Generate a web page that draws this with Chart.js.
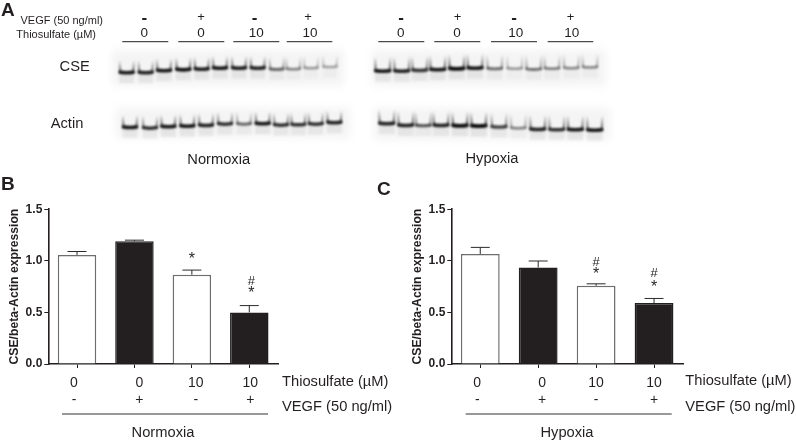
<!DOCTYPE html>
<html><head><meta charset="utf-8">
<script src="https://cdn.jsdelivr.net/npm/chart.js@4/dist/chart.umd.min.js"></script>
<style>
html,body{margin:0;padding:0;background:#fff;width:796px;height:444px;overflow:hidden}
canvas{position:absolute;display:block}
</style></head><body>
<canvas id="blot" style="left:0px;top:0px" width="796" height="444"></canvas>
<canvas id="chartB" style="left:0px;top:190px" width="400" height="254"></canvas>
<canvas id="chartC" style="left:403px;top:190px" width="393" height="254"></canvas>
<script>
// ---- data ----
const thiosulfate = ["0","0","10","10"];
const vegf = ["-","+","-","+"];
const yTicks = [0,0.5,1,1.5];
const normoxiaMeans = [1.057,1.19,0.865,0.50];
const normoxiaErrTop = [1.09,1.20,0.91,0.566];
const hypoxiaMeans = [1.066,0.935,0.758,0.59];
const hypoxiaErrTop = [1.13,0.998,0.777,0.635];
const normoxiaMarks = [[],[],[["*",1.04]],[["#",0.805],["*",0.71]]];
const hypoxiaMarks = [[],[],[["#",0.985],["*",0.90]],[["#",0.88],["*",0.77]]];
const barFills = ["#ffffff","#231f20","#ffffff","#231f20"];
const barEdges = ["#6e6e6e","#231f20","#6e6e6e","#231f20"];
const labelShiftB = [-3,5,4,1];
const labelShiftC = [-3,4,0,0];

// western blot lanes (position of each band on the picture, and its darkness)
const cseNormX = [126.7,145.7,164,183.3,201.7,220,239,257.7,276.7,293.3,311,330];
const cseNormY = [72.3,72.3,70.3,69.3,68.7,67.7,67.7,67.7,69,68.7,67.7,66.7];
const cseNormI = [.95,.9,.95,.98,.92,.95,.92,.9,.6,.5,.4,.38];
const actNormX = [130,150,168.3,187.3,206,225,244,262.7,281,298.3,315.7,334.3];
const actNormY = [127,127.7,126.3,125.7,125,123.7,123.7,123.3,124.7,124.3,123.7,122.3];
const actNormI = [.95,.85,.95,.95,.9,.85,.62,.95,.85,.85,.85,.9];
const cseHypX = [382.7,401.7,419.7,437.7,456.7,475,494.7,514.7,533.7,552,571.3,590];
const cseHypY = [70.7,70.7,70,69.3,68.3,67.7,68.3,68.3,69,68.3,67.7,67];
const cseHypI = [.95,.9,.82,.95,1,.95,.6,.4,.58,.52,.48,.48];
const actHypX = [386.7,405.7,423.3,441,460,478.7,499,518.3,537.7,556.7,575.3,594.7];
const actHypY = [123.3,125,125.3,125,125.3,125.7,126.7,127.7,129,129.3,129.3,129.7];
const actHypI = [.9,.9,.7,.9,1,1,.78,.5,.9,.85,.95,.95];

const ink = "#231f20";
const sans = '"Liberation Sans", Arial, sans-serif';

// ---- plugins ----
function textAt(ctx, s, x, y, font, align){
  ctx.font = font; ctx.fillStyle = ink; ctx.textAlign = align || "center"; ctx.textBaseline = "middle";
  ctx.fillText(s, x, y);
}

const barExtras = {
  id:"barExtras",
  beforeDraw(chart, args, o){
    const sx = chart.scales.x;
    const items = sx.getLabelItems(chart.chartArea);
    if(!items._shifted){
      items.forEach((it,i)=>{ it.options.translation[0] += o.shift[i]; });
      items._shifted = true;
    }
  },
  afterDatasetsDraw(chart, args, o){
    const c = chart.ctx, sy = chart.scales.y, meta = chart.getDatasetMeta(0);
    c.save();
    meta.data.forEach((el,i)=>{
      const top = sy.getPixelForValue(o.errTop[i]);
      const hw = 9.5;
      c.strokeStyle = "#2b2b2b"; c.lineWidth = 1;
      c.beginPath();
      c.moveTo(el.x, el.y); c.lineTo(el.x, top);
      c.moveTo(el.x-hw, top); c.lineTo(el.x+hw, top);
      c.stroke();
      o.marks[i].forEach(([s,v])=>{
        const star = s === "*";
        textAt(c, s, el.x + 2*(i===3&&o.markDx) , sy.getPixelForValue(v) + (star?3:0), (star?"16px ":"13px ")+sans);
      });
    });
    c.restore();
  }
};

function barChart(id, means, errTop, marks, shift, rightPad, markDx){
  return new Chart(document.getElementById(id),{
    type:"bar",
    data:{labels:thiosulfate.map((t,i)=>[t,vegf[i]]),
      datasets:[{data:means, backgroundColor:barFills, borderColor:barEdges, borderWidth:1.5, borderSkipped:"bottom",
        categoryPercentage:1, barPercentage:0.67}]},
    options:{
      responsive:false, animation:false, devicePixelRatio:1,
      layout:{padding:{top:19.2,right:rightPad,left:0,bottom:0}},
      plugins:{legend:{display:false},tooltip:{enabled:false},
        barExtras:{errTop,marks,shift,markDx}},
      scales:{
        x:{
          offset:true,
          afterFit(s){s.height=444-190-174;},
          grid:{display:true,drawOnChartArea:false,drawTicks:true,tickLength:4,color:ink,lineWidth:1,offset:false},
          border:{display:true,color:ink,width:1.6},
          ticks:{color:ink,font:{family:sans,size:14,lineHeight:1.26},padding:6,autoSkip:false,maxRotation:0,minRotation:0}
        },
        y:{
          min:0,max:1.5,
          afterBuildTicks(s){s.ticks=yTicks.map(v=>({value:v}));},
          afterFit(s){s.width=48.3;},
          grid:{display:true,drawOnChartArea:false,drawTicks:true,tickLength:4,color:ink,lineWidth:1},
          border:{display:true,color:ink,width:1.6},
          ticks:{color:ink,padding:2,font:{family:sans,size:12,weight:"bold"},callback:v=>Number(v).toFixed(1)},
          title:{display:true,text:"CSE/beta-Actin expression",color:ink,font:{family:sans,size:12.2,weight:"bold"},padding:{top:7,bottom:0}}
        }
      }
    },
    plugins:[barExtras]
  });
}

const pageDecor = {
  id:"pageDecor",
  beforeDatasetsDraw(chart){
    const c = chart.ctx;
    c.save();
    c.filter = "blur(4px)"; c.fillStyle = "#f4f4f4";
    [[112,50,232,36],[116,108,234,30],[372,50,234,36],[374,108,236,32]].forEach(r=>c.fillRect(...r));
    c.restore();
  },
  afterDatasetsDraw(chart){
    const c = chart.ctx;
    // bands
    chart.data.datasets.forEach((ds,d)=>{
      const meta = chart.getDatasetMeta(d);
      meta.data.forEach((el,i)=>{
        const a = ds.darkness[i], x = el.x, y = el.y, w = ds.bandWidth, h = ds.armHeight;
        c.save();
        c.filter = "blur(0.8px)";
        // smear below
        c.fillStyle = "rgba(60,60,60,"+(0.09*a)+")";
        c.fillRect(x-w/2, y+2, w, 9);
        // arms
        [-1,1].forEach(sd=>{
          const g = c.createLinearGradient(0,y,0,y-h);
          g.addColorStop(0,"rgba(20,20,20,"+(0.95*a)+")");
          g.addColorStop(0.5,"rgba(50,50,50,"+(0.5*a)+")");
          g.addColorStop(1,"rgba(70,70,70,0)");
          c.strokeStyle = g; c.lineWidth = 1.8;
          c.beginPath(); c.moveTo(x+sd*(w/2-1), y); c.lineTo(x+sd*(w/2-0.3), y-h); c.stroke();
        });
        // band
        c.strokeStyle = "rgba(10,10,10,"+a+")"; c.lineWidth = 1.5+2.2*a; c.lineCap = "round";
        c.beginPath(); c.moveTo(x-w/2+1, y); c.quadraticCurveTo(x, y+1, x+w/2-1, y); c.stroke();
        c.restore();
      });
    });
    c.save();
    const big = "bold 19px "+sans, mid = "14.7px "+sans, small = "11px "+sans;
    textAt(c,"A",1,11,big,"left");
    textAt(c,"B",1,185,big,"left");
    textAt(c,"C",377,190,big,"left");
    textAt(c,"VEGF (50 ng/ml)",103,21,small,"right");
    textAt(c,"Thiosulfate (µM)",96,34.5,small,"right");
    textAt(c,"CSE",74.7,66.5,mid);
    textAt(c,"Actin",67,124,mid);
    textAt(c,"Normoxia",218.7,160,mid);
    textAt(c,"Hypoxia",492,159,mid);
    // lane group headers
    const groups = [[122.3,168.3,144.3,144.3],[178.3,224.3,201,201],[233.3,279.3,256.3,254.5],[286.7,332.3,310,308],
                    [378.3,424.3,400.7,401],[434.3,480.3,457,457.5],[491,537,515.7,514],[547.7,593.3,571.7,570.5]];
    groups.forEach((g,i)=>{
      const k = i%4;
      c.strokeStyle = ink; c.lineWidth = 1;
      c.beginPath(); c.moveTo(g[0],41.7); c.lineTo(g[1],41.7); c.stroke();
      textAt(c,thiosulfate[k],g[2],33,"13.5px "+sans);
      textAt(c,vegf[k],g[3],k%2? 17.5:18, k%2? "13px "+sans : "bold 17px "+sans);
    });
    // axis side labels
    textAt(c,"Thiosulfate (µM)",282,381.5,mid,"left");
    textAt(c,"VEGF (50 ng/ml)",282,407,mid,"left");
    textAt(c,"Thiosulfate (µM)",685.3,381,mid,"left");
    textAt(c,"VEGF (50 ng/ml)",685.3,407,mid,"left");
    textAt(c,"Normoxia",163,433.3,mid);
    textAt(c,"Hypoxia",567,433,mid);
    c.strokeStyle = "#333"; c.lineWidth = 1;
    c.beginPath();
    c.moveTo(62,414); c.lineTo(268,414);
    c.moveTo(465.7,414); c.lineTo(671.7,414);
    c.stroke();
    c.restore();
  }
};

const toPts = (xs,ys)=>xs.map((x,i)=>({x,y:ys[i]}));
new Chart(document.getElementById("blot"),{
  type:"scatter",
  data:{datasets:[
    {data:toPts(cseNormX,cseNormY),darkness:cseNormI,bandWidth:15,armHeight:12,pointRadius:0},
    {data:toPts(actNormX,actNormY),darkness:actNormI,bandWidth:15,armHeight:12,pointRadius:0},
    {data:toPts(cseHypX,cseHypY),darkness:cseHypI,bandWidth:16,armHeight:14,pointRadius:0},
    {data:toPts(actHypX,actHypY),darkness:actHypI,bandWidth:16,armHeight:14,pointRadius:0}
  ]},
  options:{responsive:false,animation:false,devicePixelRatio:1,
    layout:{padding:0},
    plugins:{legend:{display:false},tooltip:{enabled:false}},
    scales:{x:{type:"linear",display:false,min:0,max:796},y:{type:"linear",display:false,min:0,max:444,reverse:true}}},
  plugins:[pageDecor]
});

barChart("chartB",normoxiaMeans,normoxiaErrTop,normoxiaMarks,labelShiftB,122,1);
barChart("chartC",hypoxiaMeans,hypoxiaErrTop,hypoxiaMarks,labelShiftC,113,0);
</script>
</body></html>
